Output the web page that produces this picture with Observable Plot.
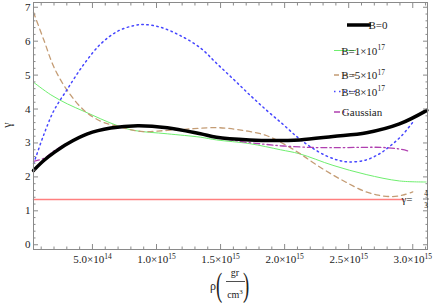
<!DOCTYPE html>
<html><head><meta charset="utf-8">
<script src="https://cdn.jsdelivr.net/npm/d3@7"></script>
<script src="https://cdn.jsdelivr.net/npm/@observablehq/plot@0.6"></script>
<style>
body{margin:0;background:#fff}
svg text, svg tspan { font-family: 'Liberation Serif', serif !important; }
</style>
</head><body><div id="chart"></div>
<script>
// rho in units of 10^15 gr/cm^3
const rhoB0   = [0.04, 0.123, 0.205, 0.305, 0.461, 0.643, 0.853, 1.084, 1.343, 1.468, 1.727, 1.91, 2.117, 2.377, 2.64, 2.896, 3.11];
const gammaB0 = [2.19, 2.49, 2.73, 2.98, 3.27, 3.44, 3.51, 3.45, 3.27, 3.17, 3.09, 3.07, 3.09, 3.19, 3.30, 3.56, 3.96];

const rhoB1   = [0.04, 0.175, 0.305, 0.435, 0.565, 0.695, 0.824, 1.084, 1.343, 1.468, 1.727, 1.967, 2.117, 2.377, 2.636, 2.896, 3.104];
const gammaB1 = [4.79, 4.42, 4.15, 3.93, 3.71, 3.51, 3.37, 3.27, 3.17, 3.09, 2.98, 2.80, 2.68, 2.34, 2.07, 1.88, 1.85];

const rhoB5   = [0.04, 0.123, 0.2, 0.305, 0.435, 0.565, 0.695, 0.876, 1.084, 1.29, 1.484, 1.676, 1.857, 2.013, 2.13, 2.25, 2.38, 2.5, 2.62, 2.73, 2.84, 2.92, 3.0];
const gammaB5 = [6.85, 6.01, 5.23, 4.54, 3.96, 3.64, 3.49, 3.34, 3.37, 3.42, 3.45, 3.37, 3.22, 2.93, 2.66, 2.35, 2.05, 1.80, 1.58, 1.46, 1.42, 1.46, 1.56];

const rhoB8   = [0.04, 0.058, 0.123, 0.2, 0.305, 0.435, 0.565, 0.695, 0.824, 0.902, 1.032, 1.188, 1.343, 1.468, 1.6, 1.727, 1.86, 1.987, 2.1, 2.2, 2.325, 2.42, 2.5, 2.636, 2.74, 2.82, 2.91, 3.0];
const gammaB8 = [2.39, 2.58, 3.27, 3.96, 4.59, 5.33, 5.92, 6.29, 6.46, 6.49, 6.41, 6.16, 5.80, 5.35, 4.88, 4.42, 3.96, 3.55, 3.17, 2.89, 2.62, 2.49, 2.44, 2.50, 2.68, 2.90, 3.20, 3.61];

const rhoGauss   = [0.04, 0.123, 0.205, 0.305, 0.461, 0.643, 0.853, 1.084, 1.343, 1.5, 1.68, 1.85, 1.99, 2.2, 2.4, 2.6, 2.75, 2.88, 2.97];
const gammaGauss = [2.46, 2.55, 2.78, 2.99, 3.28, 3.45, 3.51, 3.45, 3.27, 3.15, 3.03, 2.96, 2.91, 2.87, 2.86, 2.87, 2.87, 2.83, 2.76];

const rhoRef   = [0.04, 2.93];
const gammaRef = [4/3, 4/3];

const xMajor = [0.5, 1.0, 1.5, 2.0, 2.5, 3.0];
const xMinor = [0.1,0.2,0.3,0.4,0.6,0.7,0.8,0.9,1.1,1.2,1.3,1.4,1.6,1.7,1.8,1.9,2.1,2.2,2.3,2.4,2.6,2.7,2.8,2.9,3.1];
const yMajor = [0,1,2,3,4,5,6,7];
const yMinor = [0.2,0.4,0.6,0.8,1.2,1.4,1.6,1.8,2.2,2.4,2.6,2.8,3.2,3.4,3.6,3.8,4.2,4.4,4.6,4.8,5.2,5.4,5.6,5.8,6.2,6.4,6.6,6.8];

const legendNames = ["B=0", "B=1×10^17", "B=5×10^17", "B=8×10^17", "Gaussian"];

const rows = (xs, ys) => xs.map((x, i) => ({x, y: ys[i]}));
const fmtX = d => d < 1 ? (d * 10).toFixed(1) + "×10^14" : d.toFixed(1) + "×10^15";

const W = 436, H = 307;
const tickStroke = "#8a8a8a";
const noLabel = () => "";
const SERIF = "'Liberation Serif', serif";

const tickAxes = (axis, anchor, major, minor) => [
  axis({anchor, ticks: major, tickSize: -5, tickFormat: noLabel, label: null, stroke: tickStroke}),
  axis({anchor, ticks: minor, tickSize: -2.5, tickFormat: noLabel, label: null, stroke: tickStroke})
];

const plot = Plot.plot({
  width: W, height: H,
  marginLeft: 33, marginRight: 9, marginTop: 2, marginBottom: 58,
  style: {fontFamily: SERIF, fontSize: "11px", color: "#222", background: "#fff"},
  x: {domain: [0.04, 3.115]},
  y: {domain: [-0.14, 7.14]},
  marks: [
    Plot.line(rows(rhoRef, gammaRef), {x: "x", y: "y", stroke: "#ff7f7f", strokeWidth: 1.5}),
    Plot.line(rows(rhoB1, gammaB1), {x: "x", y: "y", stroke: "#6fef6f", strokeWidth: 1, curve: "catmull-rom"}),
    Plot.line(rows(rhoB5, gammaB5), {x: "x", y: "y", stroke: "#c49c74", strokeWidth: 1.3, strokeDasharray: "5,4", curve: "catmull-rom"}),
    Plot.line(rows(rhoB8, gammaB8), {x: "x", y: "y", stroke: "#4646ff", strokeWidth: 1.5, strokeDasharray: "1.5,3.5", curve: "catmull-rom"}),
    Plot.line(rows(rhoGauss, gammaGauss), {x: "x", y: "y", stroke: "#b040b0", strokeWidth: 1.3, strokeDasharray: "6,3,1.5,3", curve: "catmull-rom"}),
    Plot.line(rows(rhoB0, gammaB0), {x: "x", y: "y", stroke: "#000", strokeWidth: 3.5, curve: "catmull-rom"}),
    Plot.frame({stroke: tickStroke}),
    ...tickAxes(Plot.axisX, "bottom", xMajor, xMinor),
    ...tickAxes(Plot.axisX, "top", xMajor, xMinor),
    ...tickAxes(Plot.axisY, "left", yMajor, yMinor),
    ...tickAxes(Plot.axisY, "right", yMajor, yMinor),
    Plot.axisX({ticks: xMajor, tickSize: 0, tickPadding: 6, tickFormat: fmtX, label: null}),
    Plot.axisY({ticks: yMajor, tickSize: 0, tickPadding: 3, tickFormat: d => String(d), label: null})
  ]
});
document.getElementById("chart").appendChild(plot);

const svg = d3.select(plot);

// superscripts for "a^b" strings
function setSup(sel, supSize, supDy) {
  sel.each(function() {
    const t = d3.select(this);
    const s = t.text();
    if (!s.includes("^")) return;
    const [base, sup] = s.split("^");
    t.text(null);
    t.append("tspan").text(base);
    t.append("tspan").attr("font-size", supSize).attr("dy", supDy).text(sup);
  });
}
setSup(svg.selectAll("text"), "7.5px", "-4.5");

const g = svg.append("g").attr("font-family", SERIF).attr("fill", "#222").attr("stroke", "none");

// legend
const legendRows = [
  {y: 25,   x1: 347, x2: 371, tx: 378, stroke: "#000", w: 3.5, dash: null},
  {y: 50.5, x1: 334, x2: 356, tx: 363, stroke: "#6fef6f", w: 1, dash: null},
  {y: 75,   x1: 334, x2: 356, tx: 363, stroke: "#c49c74", w: 1.3, dash: "5,4"},
  {y: 91.5, x1: 334, x2: 356, tx: 363, stroke: "#4646ff", w: 1.5, dash: "1.5,3.5"},
  {y: 112,  x1: 334, x2: 348, tx: 362, stroke: "#b040b0", w: 1.3, dash: "6,3,1.5,3"}
];
legendRows.forEach((r, i) => {
  g.append("line").attr("x1", r.x1).attr("x2", r.x2).attr("y1", r.y).attr("y2", r.y)
    .attr("stroke", r.stroke).attr("stroke-width", r.w).attr("stroke-dasharray", r.dash);
  const t = g.append("text").attr("x", r.tx).attr("y", r.y + 4).attr("font-size", 11).text(legendNames[i]);
  setSup(t, "7.5px", "-4.5");
});

// y label
g.append("text").attr("transform", "translate(11,125) rotate(-90)").attr("text-anchor", "middle")
  .attr("font-size", 12).text("γ");

// x label  ρ(gr/cm^3)
g.append("text").attr("x", 213).attr("y", 290).attr("text-anchor", "middle").attr("font-size", 12).text("ρ");
g.append("text").attr("transform", "translate(219,296) scale(0.55,1)").attr("font-size", 34).text("(");
g.append("text").attr("transform", "translate(246,296) scale(0.55,1)").attr("font-size", 34).text(")");
g.append("text").attr("x", 235).attr("y", 276).attr("text-anchor", "middle").attr("font-size", 10).text("gr");
g.append("line").attr("x1", 226).attr("x2", 245).attr("y1", 281.5).attr("y2", 281.5).attr("stroke", "#222").attr("stroke-width", 0.8);
const cm = g.append("text").attr("x", 235).attr("y", 298).attr("text-anchor", "middle").attr("font-size", 10).text("cm^3");
setSup(cm, "7px", "-4");

// γ = 4/3 label
g.append("text").attr("x", 407).attr("y", 203).attr("font-size", 11).text("γ=");
g.append("text").attr("x", 426).attr("y", 196).attr("text-anchor", "middle").attr("font-size", 7.5).text("4");
g.append("line").attr("x1", 423).attr("x2", 429).attr("y1", 199).attr("y2", 199).attr("stroke", "#222").attr("stroke-width", 0.6);
g.append("text").attr("x", 426).attr("y", 207.5).attr("text-anchor", "middle").attr("font-size", 7.5).text("3");
</script>
</body></html>
